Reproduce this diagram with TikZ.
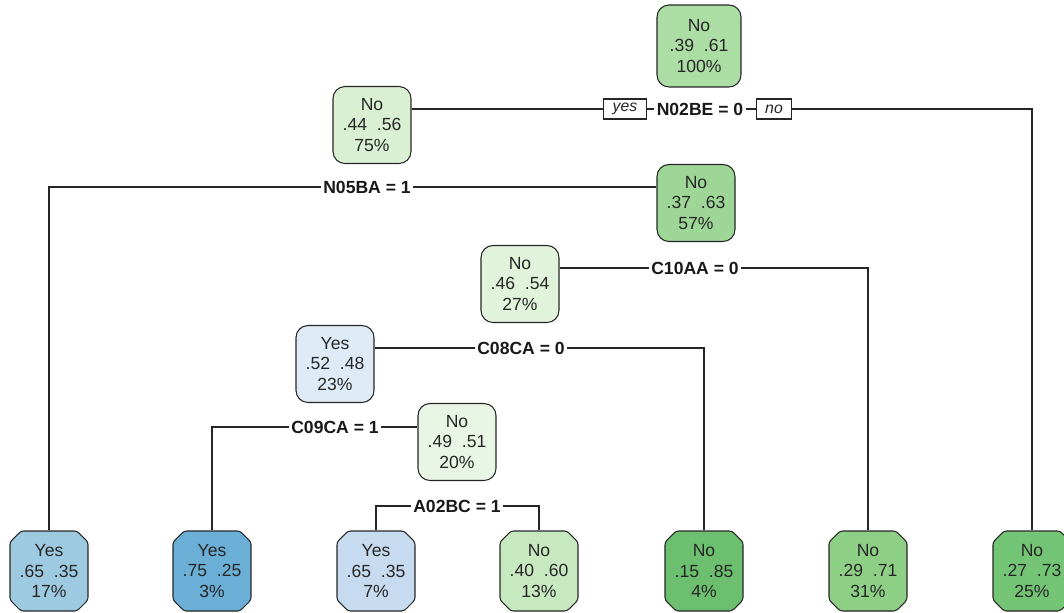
\documentclass[tikz,border=0pt]{standalone}
\usepackage{fontspec}
\setmainfont{Liberation Sans}
\usepackage{tikz}
\usetikzlibrary{positioning, shapes.misc}
\definecolor{GreenA}{HTML}{EAF6E5}
\definecolor{GreenB}{HTML}{E2F3DC}
\definecolor{GreenC}{HTML}{D9F0D3}
\definecolor{GreenD}{HTML}{C7E9C0}
\definecolor{GreenE}{HTML}{ACDDA5}
\definecolor{GreenF}{HTML}{9DD697}
\definecolor{GreenG}{HTML}{8DCF85}
\definecolor{GreenH}{HTML}{74C476}
\definecolor{GreenI}{HTML}{6CBF6E}
\definecolor{BlueA}{HTML}{DEEBF7}
\definecolor{BlueB}{HTML}{C6DBEF}
\definecolor{BlueC}{HTML}{9ECAE1}
\definecolor{BlueD}{HTML}{6BAED6}

\begin{document}
\begin{tikzpicture}[x=0.02cm, y=-0.02cm,
  split_node/.style={rectangle, rounded corners=0.24cm, draw=black!85, line width=0.6pt, minimum width=1.56cm, minimum height=1.54cm, inner sep=1pt, align=center, text=black!85, font=\fontsize{10}{11.5}\selectfont},
  leaf_node/.style={chamfered rectangle, chamfered rectangle xsep=0.11cm, chamfered rectangle ysep=0.11cm, rounded corners=1.5pt, draw=black!85, line width=0.6pt, minimum width=1.56cm, minimum height=1.6cm, inner sep=1pt, align=center, text=black!85, font=\fontsize{10}{11.5}\selectfont},
  lab_node/.style={fill=white, inner sep=1.5pt, text=black!90, font=\fontsize{10}{12}\selectfont\bfseries},
  dir_node/.style={draw=black!85, line width=0.6pt, fill=white, minimum height=0.4cm, inner xsep=5pt, inner ysep=0pt, text=black!85, font=\fontsize{9}{10}\selectfont\itshape},
  edge_line/.style={draw=black!85, line width=0.7pt},
]
  \useasboundingbox (0,0) rectangle (1064,612);

  % inner nodes
  \node[split_node, fill=GreenE, minimum width=1.68cm, minimum height=1.64cm] (root) at (699,46) {No\\.39~~.61\\100\%};
  \node[split_node, fill=GreenC] (n75) at (372,125) {No\\.44~~.56\\75\%};
  \node[split_node, fill=GreenF] (n57) at (696,203) {No\\.37~~.63\\57\%};
  \node[split_node, fill=GreenB] (n27) at (520,284) {No\\.46~~.54\\27\%};
  \node[split_node, fill=BlueA] (n23) at (335,364) {Yes\\.52~~.48\\23\%};
  \node[split_node, fill=GreenA] (n20) at (457,442) {No\\.49~~.51\\20\%};

  % leaves
  \foreach \nm/\x/\col/\cls/\pa/\pb/\pct in {
      l17/49/BlueC/Yes/.65/.35/17, l3/212/BlueD/Yes/.75/.25/3,
      l7/376/BlueB/Yes/.65/.35/7, l13/539/GreenD/No/.40/.60/13,
      l4/704/GreenI/No/.15/.85/4, l31/868/GreenG/No/.29/.71/31,
      l25/1032/GreenH/No/.27/.73/25}
    \node[leaf_node, fill=\col] (\nm) at (\x,571) {\cls\\\pa~~\pb\\\pct\%};

  % split labels
  \coordinate (c1) at (700,109);
  \coordinate (c2) at (367,187);
  \coordinate (c3) at (695,268);
  \coordinate (c4) at (521,348);
  \coordinate (c5) at (335,427);
  \coordinate (c6) at (457,506);

  \draw[edge_line] (n75.east |- c1) -- (c1) -| (l25.north);
  \draw[edge_line] (l17.north) |- (c2) -- (n57.west |- c2);
  \draw[edge_line] (n27.east |- c3) -- (c3) -| (l31.north);
  \draw[edge_line] (n23.east |- c4) -- (c4) -| (l4.north);
  \draw[edge_line] (l3.north) |- (c5) -- (n20.west |- c5);
  \draw[edge_line] (l7.north) |- (c6) -| (l13.north);

  \node[lab_node] (s1) at (c1) {N02BE = 0};
  \node[lab_node] (s2) at (c2) {N05BA = 1};
  \node[lab_node] (s3) at (c3) {C10AA = 0};
  \node[lab_node] (s4) at (c4) {C08CA = 0};
  \node[lab_node] (s5) at (c5) {C09CA = 1};
  \node[lab_node] (s6) at (c6) {A02BC = 1};

  \node[dir_node] (yes) at (625,109) {yes};
  \node[dir_node] (no) at (774,109) {no};
\end{tikzpicture}
\end{document}
